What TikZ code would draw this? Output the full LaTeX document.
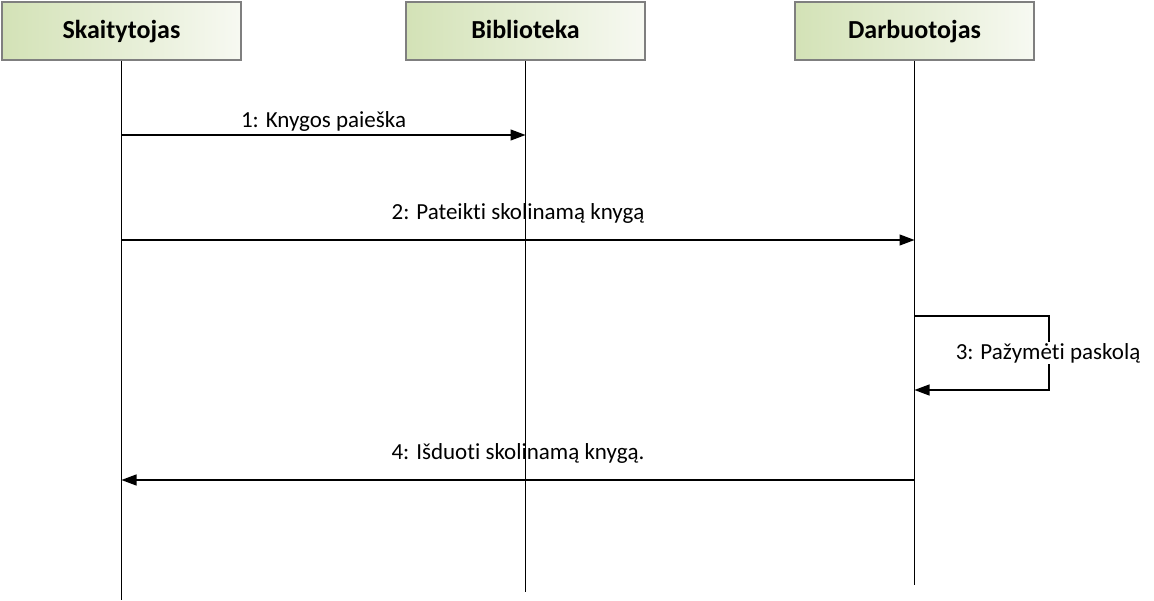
\documentclass[tikz,border=0pt]{standalone}
\usepackage{fontspec}
\setmainfont{Carlito}[Ligatures=NoCommon]
\usetikzlibrary{arrows.meta}
\definecolor{BoxGreen}{HTML}{D3E2B6}
\definecolor{BoxWhite}{HTML}{F7F9F2}
\definecolor{BoxLine}{HTML}{7F7F7F}
\definecolor{Ink}{HTML}{000000}
\tikzset{actorbox/.style={draw=BoxLine,line width=1.5pt,left color=BoxGreen,right color=BoxWhite,minimum width=239pt,minimum height=58pt,text height=20pt,text depth=4pt,font=\bfseries\fontsize{26}{30}\selectfont,text=Ink},lifeline/.style={draw=Ink,line width=1.2pt},msgarrow/.style={draw=Ink,line width=1.2pt,-{Triangle[length=15pt,width=11pt]}},msglabel/.style={font=\fontsize{23}{27}\selectfont,text=Ink,inner sep=1pt}}

\begin{document}
\begin{tikzpicture}[x=1pt,y=-1pt]
\useasboundingbox (0,0) rectangle (1154,601);
\fill[white] (0,0) rectangle (1154,601);
\node[actorbox] (skaitytojas) at (121.5,31) {Skaitytojas};
\node[actorbox] (biblioteka) at (525.5,31) {Biblioteka};
\node[actorbox] (darbuotojas) at (914.5,31) {Darbuotojas};
\coordinate (skEnd) at (121.5,600);\coordinate (biEnd) at (525.5,592);\coordinate (daEnd) at (914.5,585);
\draw[lifeline] (skaitytojas.south)--(skEnd);\draw[lifeline] (biblioteka.south)--(biEnd);\draw[lifeline] (darbuotojas.south)--(daEnd);
\coordinate (sk1) at (121.5,135);\coordinate (bi1) at (525.5,135);
\coordinate (sk2) at (121.5,240);\coordinate (da2) at (914.5,240);
\coordinate (da3a) at (914.5,316);\coordinate (da3b) at (914.5,390);
\coordinate (da4) at (914.5,480);\coordinate (sk4) at (121.5,480);
\draw[msgarrow] (sk1)--(bi1) node[midway,above=2pt,msglabel] (m1) {1: Knygos paieška};
\draw[msgarrow] (sk2)--(da2) node[midway,above=15pt,msglabel] (m2) {2: Pateikti skolinamą knygą};
\draw[msgarrow] (da3a)-|(1049,353)|-(da3b);
\node[msglabel,fill=white,anchor=center] (m3) at (1048,353) {3: Pažymėti paskolą};
\draw[msgarrow] (da4)--(sk4) node[midway,above=15pt,msglabel] (m4) {4: Išduoti skolinamą knygą.};
\end{tikzpicture}
\end{document}
